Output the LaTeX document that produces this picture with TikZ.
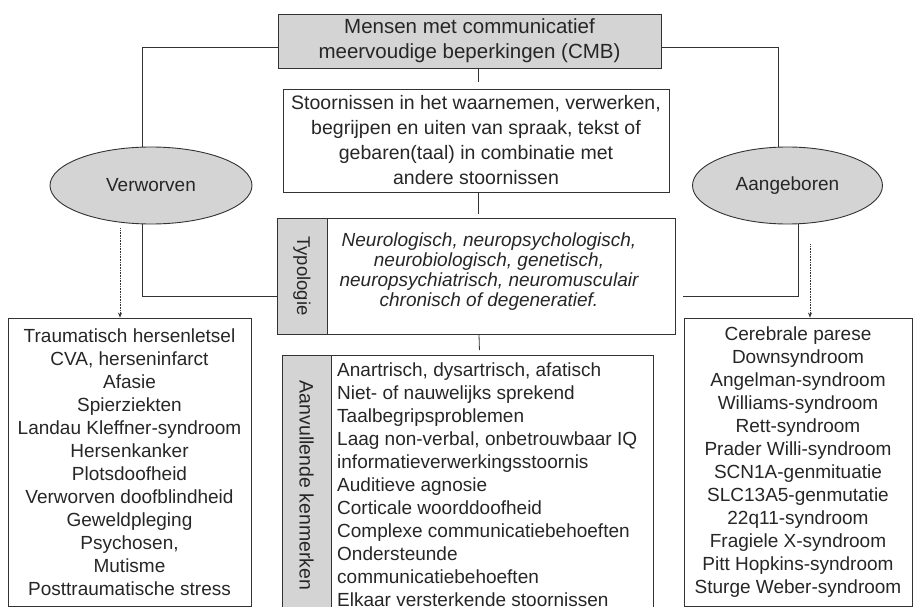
\documentclass[tikz,border=0pt]{standalone}
\usepackage{fontspec}
\setmainfont{Liberation Sans}
\usetikzlibrary{shapes.geometric,arrows.meta}
\definecolor{boxgrey}{HTML}{D4D4D4}
\definecolor{ink}{HTML}{262626}
\definecolor{rule}{HTML}{333333}
\newcommand{\mainsize}{\fontsize{19}{25}\selectfont}
\newcommand{\headsize}{\fontsize{20.5}{25}\selectfont}
\newcommand{\boxsize}{\fontsize{19.5}{25}\selectfont}
\newcommand{\listsize}{\fontsize{19}{23}\selectfont}
\tikzset{
  box/.style={draw=rule, line width=0.9pt, rectangle, inner sep=0pt, text=ink},
  greybox/.style={box, fill=boxgrey},
  oval/.style={draw=rule, line width=0.9pt, ellipse, fill=boxgrey, inner sep=0pt, text=ink, font=\mainsize},
  link/.style={draw=rule, line width=0.8pt},
  dotlink/.style={draw=rule, line width=0.6pt, densely dotted, -{Stealth[length=5pt,width=4pt]}},
}
\begin{document}
\begin{tikzpicture}[x=1pt,y=-1pt]
\useasboundingbox (0,0) rectangle (913,607);
\clip (0,0) rectangle (913,607);

% central column
\node[greybox, minimum width=383pt, minimum height=54pt, align=center, font=\headsize] (cmb) at (469.5,41)
  {Mensen met communicatief\\meervoudige beperkingen (CMB)};
\node[box, minimum width=386pt, minimum height=103pt, align=center, font=\boxsize] (stoor) at (476,140.5)
  {Stoornissen in het waarnemen, verwerken,\\begrijpen en uiten van spraak, tekst of\\gebaren(taal) in combinatie met\\andere stoornissen};

% typology block
\node[greybox, minimum width=50pt, minimum height=116pt] (typstrip) at (302,276) {};
\node[box, minimum width=348pt, minimum height=116pt] (typtext) at (501,276) {};
\node[rotate=-90, text=ink, font=\fontsize{18.5}{20}\selectfont] (typlabel) at (302,276) {Typologie};
\node[align=center, text=ink, font=\fontsize{19}{20}\selectfont\itshape] (typbody) at (489,272)
  {Neurologisch, neuropsychologisch,\\neurobiologisch, genetisch,\\neuropsychiatrisch, neuromusculair\\chronisch of degeneratief.};

% additional features block
\node[greybox, minimum width=49pt, minimum height=300pt, anchor=north west] (aanvstrip) at (282,355) {};
\node[box, minimum width=322pt, minimum height=300pt, anchor=north west] (aanvtext) at (331,355) {};
\node[rotate=-90, text=ink, font=\fontsize{19.5}{20}\selectfont] (aanvlabel) at (306.5,485.5) {Aanvullende kenmerken};
\node[anchor=north west, align=left, text=ink, font=\listsize, inner sep=0pt] (aanvbody) at (337,363)
  {Anartrisch, dysartrisch, afatisch\\
   Niet- of nauwelijks sprekend\\
   Taalbegripsproblemen\\
   Laag non-verbal, onbetrouwbaar IQ\\
   informatieverwerkingsstoornis\\
   Auditieve agnosie\\
   Corticale woorddoofheid\\
   Complexe communicatiebehoeften\\
   Ondersteunde\\
   communicatiebehoeften\\
   Elkaar versterkende stoornissen};

% acquired / congenital
\node[oval, minimum width=202pt, minimum height=77pt] (verw) at (151,185.5) {Verworven};
\node[oval, minimum width=190pt, minimum height=77pt] (aang) at (787.5,185.5) {Aangeboren};

\node[box, minimum width=243pt, minimum height=288pt, align=center, font=\listsize] (leftlist) at (129.5,462)
  {Traumatisch hersenletsel\\CVA, herseninfarct\\Afasie\\Spierziekten\\Landau Kleffner-syndroom\\Hersenkanker\\Plotsdoofheid\\Verworven doofblindheid\\Geweldpleging\\Psychosen,\\Mutisme\\Posttraumatische stress};
\node[box, minimum width=228pt, minimum height=288pt, align=center, font=\listsize] (rightlist) at (798,462)
  {Cerebrale parese\\Downsyndroom\\Angelman-syndroom\\Williams-syndroom\\Rett-syndroom\\Prader Willi-syndroom\\SCN1A-genmituatie\\SLC13A5-genmutatie\\22q11-syndroom\\Fragiele X-syndroom\\Pitt Hopkins-syndroom\\Sturge Weber-syndroom};

% connectors
\draw[link] ([yshift=-6pt]cmb.west) -| ([xshift=-9pt]verw.north);
\draw[link] ([yshift=-6pt]cmb.east) -| ([xshift=-9.5pt]aang.north);
\draw[link] ([xshift=8.5pt]cmb.south) -- ([xshift=2pt,yshift=7pt]stoor.north);
\draw[link] ([xshift=2pt]stoor.south) -- ([xshift=-23pt,yshift=4pt]typtext.north);
\draw[link] ([xshift=-22pt]typtext.south) -- ([xshift=-13pt,yshift=5pt]aanvtext.north);
\draw[link] ([xshift=-9pt]verw.south) |- ([yshift=-20pt]typstrip.west);
\draw[link] ([xshift=10.5pt]aang.south) |- ([xshift=8pt,yshift=-20pt]typtext.east);
\draw[dotlink] ([xshift=-31pt,yshift=-4pt]verw.south) -- ([xshift=-9.5pt]leftlist.north);
\draw[dotlink] ([xshift=22.5pt,yshift=-20pt]aang.south) -- ([xshift=12pt]rightlist.north);
\end{tikzpicture}
\end{document}
